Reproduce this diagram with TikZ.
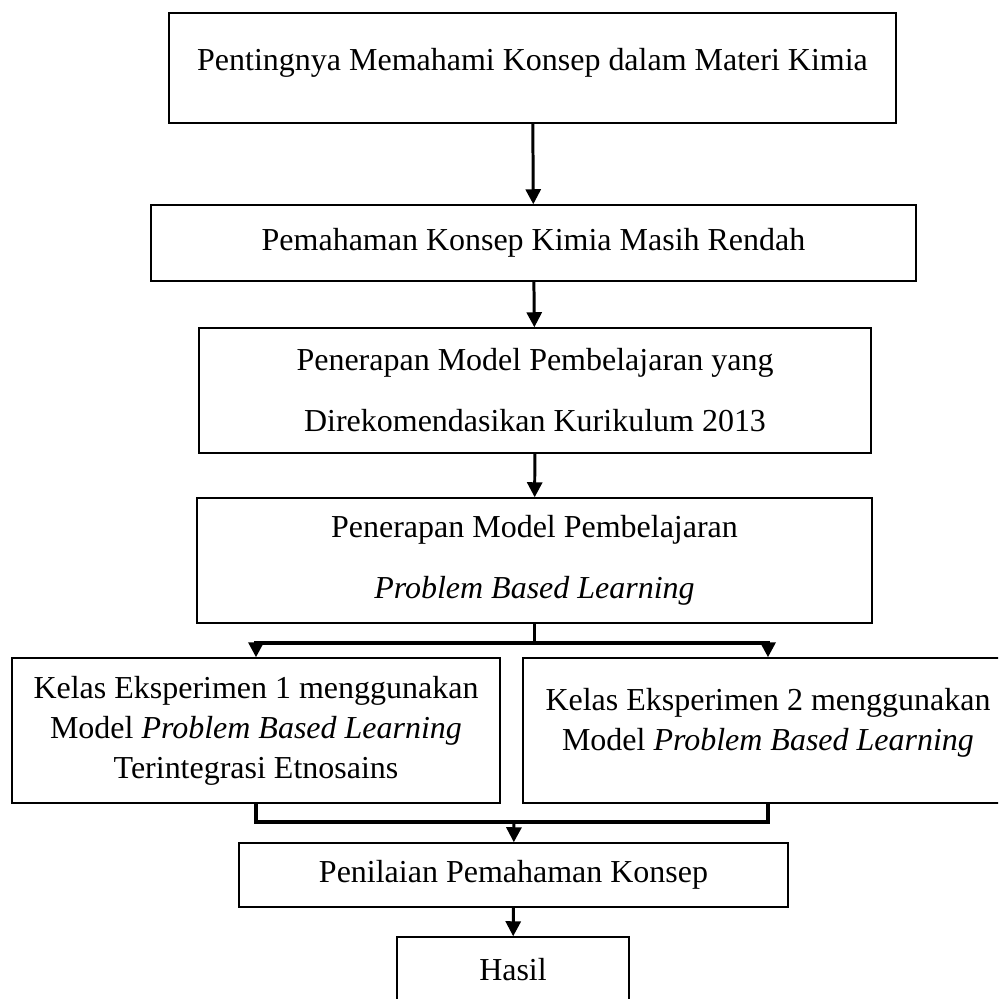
\documentclass[tikz,border=0pt]{standalone}
\usepackage{fontspec}
\setmainfont{Liberation Serif}
\usetikzlibrary{arrows.meta}

\begin{document}
\begin{tikzpicture}[
		kotak/.style={draw, line width=0.85pt, align=center, inner sep=2pt, font=\fontsize{18.2}{22.8}\selectfont},
		renggang/.style={font=\fontsize{18.2}{34.7}\selectfont},
		garis/.style={line width=1.9pt},
		panah/.style={line width=1.7pt, -{Triangle[length=0.3cm,width=0.3cm]}}
	]
			\clip (0,0) rectangle (19.96,-19.98);

			\node[kotak, minimum width=14.54cm, minimum height=2.2cm, text depth=0.36cm] (penting) at (10.65,-1.36) {Pentingnya Memahami Konsep dalam Materi Kimia};
			\node[kotak, minimum width=15.3cm, minimum height=1.52cm] (rendah) at (10.67,-4.86) {Pemahaman Konsep Kimia Masih Rendah};
			\node[kotak, renggang, minimum width=13.44cm, minimum height=2.5cm] (model13) at (10.70,-7.81) {Penerapan Model Pembelajaran yang\\Direkomendasikan Kurikulum 2013};
			\node[kotak, renggang, minimum width=13.5cm, minimum height=2.5cm] (pbl) at (10.69,-11.21) {Penerapan Model Pembelajaran\\\textit{Problem Based Learning}};
			\node[kotak, minimum width=9.76cm, minimum height=2.9cm] (eks1) at (5.12,-14.61) {Kelas Eksperimen 1 menggunakan\\Model \textit{Problem Based Learning}\\Terintegrasi Etnosains};
			\node[kotak, minimum width=9.8cm, minimum height=2.9cm, text depth=0.45cm] (eks2) at (15.36,-14.61) {Kelas Eksperimen 2 menggunakan\\Model \textit{Problem Based Learning}};
			\node[kotak, minimum width=10.98cm, minimum height=1.28cm] (nilai) at (10.27,-17.5) {Penilaian Pemahaman Konsep};
			\node[kotak, minimum width=4.64cm, minimum height=1.32cm] (hasil) at (10.26,-19.4) {Hasil};

			\coordinate (cabang) at (10.69,-12.86);
			\coordinate (gabung) at (10.28,-16.44);

			\draw[panah] (penting) -- (rendah);
			\draw[panah] (rendah) -- (model13);
			\draw[panah] (model13) -- (pbl);
			\draw[garis] (pbl) -- (cabang);
			\draw[panah, line width=1.9pt] (cabang) -| (eks1);
			\draw[panah, line width=1.9pt] (cabang) -| (eks2);
			\draw[garis] (eks1) |- (gabung) -| (eks2);
			\draw[panah] (gabung) -- (nilai);
			\draw[panah] (nilai) -- (hasil);
		\end{tikzpicture}
\end{document}
